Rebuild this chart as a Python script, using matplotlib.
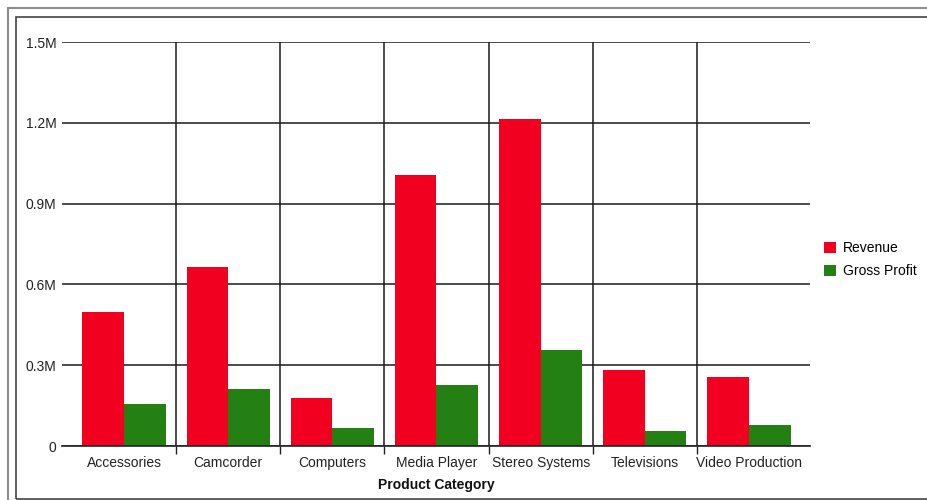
import matplotlib
matplotlib.use("Agg")
import matplotlib.pyplot as plt
from matplotlib.lines import Line2D
from matplotlib.patches import Rectangle
import numpy as np

categories = ["Accessories", "Camcorder", "Computers", "Media Player",
              "Stereo Systems", "Televisions", "Video Production"]
revenue = [0.498e6, 0.665e6, 0.178e6, 1.006e6, 1.214e6, 0.282e6, 0.256e6]
gross_profit = [0.156e6, 0.212e6, 0.068e6, 0.225e6, 0.356e6, 0.056e6, 0.078e6]
y_ticks = [0, 0.3e6, 0.6e6, 0.9e6, 1.2e6, 1.5e6]
y_tick_labels = ["0", "0.3M", "0.6M", "0.9M", "1.2M", "1.5M"]
series_names = ["Revenue", "Gross Profit"]
colors = ["#F20020", "#258014"]

plt.rcParams['font.family'] = ['Liberation Sans', 'DejaVu Sans']

W, H = 928, 500
fig = plt.figure(figsize=(W / 100, H / 100), dpi=100)

# frame lines
fig.add_artist(Line2D([8 / W, 8 / W], [0, 1 - 8 / H], transform=fig.transFigure, color="#8c8c8c", lw=1.5))
fig.add_artist(Line2D([8 / W, 1], [1 - 8 / H, 1 - 8 / H], transform=fig.transFigure, color="#8c8c8c", lw=1.5))
fig.add_artist(Rectangle((16 / W, 1 / H), 1.2, 1 - 18 / H, transform=fig.transFigure,
                         fill=False, edgecolor="#444444", lw=1.2))

left, right, top, bottom = 62, 810, 42, 446
ax = fig.add_axes([left / W, 1 - bottom / H, (right - left) / W, (bottom - top) / H])

x = np.arange(len(categories))
bw = 0.4
ax.bar(x - bw / 2, revenue, bw, color=colors[0], label=series_names[0], zorder=3)
ax.bar(x + bw / 2, gross_profit, bw, color=colors[1], label=series_names[1], zorder=3)

band = 104.2
ax.set_xlim(-0.5 - 10 / band, len(categories) - 0.5 + 9 / band)
ax.set_ylim(0, 1.5e6)

ax.set_yticks(y_ticks)
ax.set_yticklabels(y_tick_labels)
ax.set_xticks(x)
ax.set_xticklabels(categories)
ax.set_xticks(np.arange(len(categories) - 1) + 0.5, minor=True)

ax.tick_params(axis='y', length=0, pad=4, labelsize=10, labelcolor="#222222")
ax.tick_params(axis='x', which='major', length=0, pad=7, labelsize=10, labelcolor="#222222")
ax.tick_params(axis='x', which='minor', length=6, width=1, color="#222222", direction='out')

ax.grid(axis='y', which='major', color="#1a1a1a", lw=1.1, zorder=1)
ax.grid(axis='x', which='minor', color="#1a1a1a", lw=1.1, zorder=1)
ax.grid(axis='x', which='major', visible=False)

for s in ['left', 'top', 'right']:
    ax.spines[s].set_visible(False)
ax.spines['bottom'].set_color("#222222")
ax.spines['bottom'].set_linewidth(1.2)
ax.spines['bottom'].set_zorder(4)

ax.set_xlabel("Product Category", fontsize=10, fontweight='bold', color="#111111", labelpad=6)

fig.legend(loc='upper left', bbox_to_anchor=(824 / W, 1 - 241 / H), frameon=False,
           fontsize=10, handlelength=0.85, handleheight=0.85, handletextpad=0.5,
           labelspacing=0.65, borderaxespad=0, borderpad=0)

fig.savefig("out.png", dpi=100)
